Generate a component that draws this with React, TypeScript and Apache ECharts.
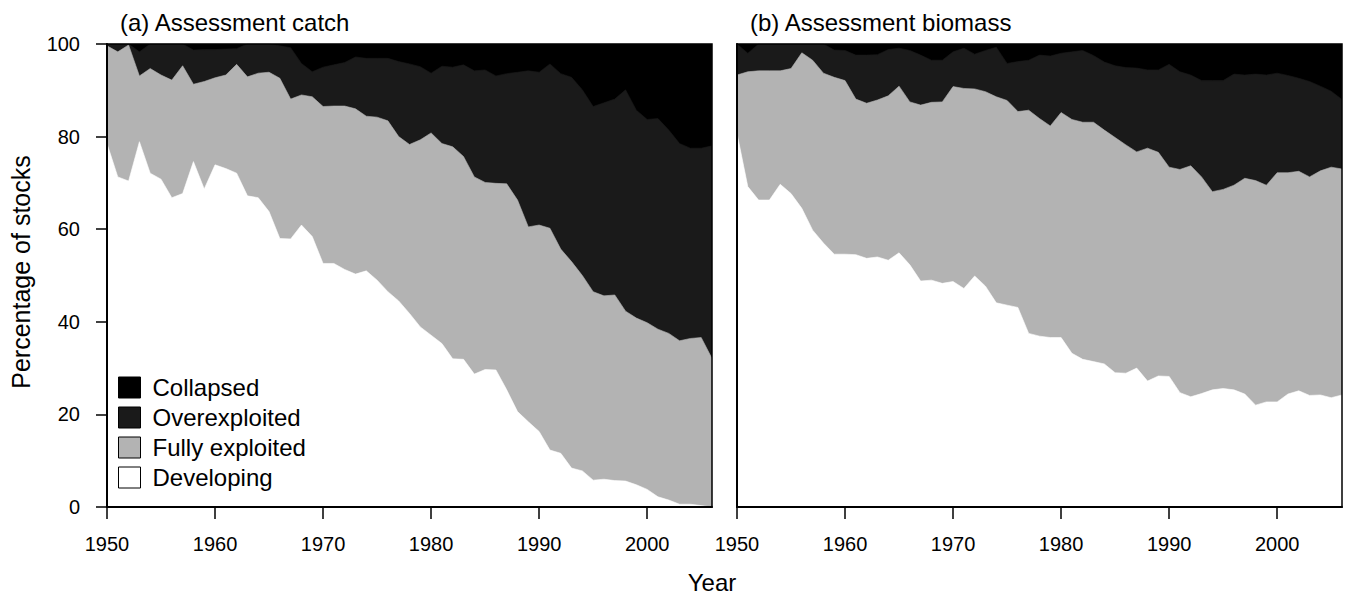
import React, { useEffect, useRef } from "react";
import * as echarts from "echarts";

const years = [
  1950, 1951, 1952, 1953, 1954, 1955, 1956, 1957, 1958, 1959,
  1960, 1961, 1962, 1963, 1964, 1965, 1966, 1967, 1968, 1969,
  1970, 1971, 1972, 1973, 1974, 1975, 1976, 1977, 1978, 1979,
  1980, 1981, 1982, 1983, 1984, 1985, 1986, 1987, 1988, 1989,
  1990, 1991, 1992, 1993, 1994, 1995, 1996, 1997, 1998, 1999,
  2000, 2001, 2002, 2003, 2004, 2005, 2006,
];

const tickYears = [1950, 1960, 1970, 1980, 1990, 2000];
const legendNames = ["Collapsed", "Overexploited", "Fully exploited", "Developing"];

// (a) Assessment catch — cumulative upper boundaries (% of stocks)
const catchDevelopingTop = [
  78.5, 71.3, 70.4, 78.9, 72.1, 70.8, 66.8, 67.7, 74.6, 68.7,
  73.9, 73.1, 72.1, 67.2, 66.8, 63.8, 58.0, 57.9, 60.9, 58.4,
  52.6, 52.6, 51.3, 50.3, 51.0, 49.0, 46.5, 44.5, 41.8, 38.9,
  37.1, 35.3, 32.0, 31.9, 28.7, 29.7, 29.6, 25.3, 20.6, 18.4,
  16.3, 12.3, 11.6, 8.4, 7.8, 5.8, 6.0, 5.7, 5.6, 4.8,
  3.8, 2.2, 1.5, 0.6, 0.6, 0.3, 0.0,
];
const catchFullyTop = [
  99.6, 98.3, 99.8, 93.1, 94.7, 93.3, 92.2, 95.3, 91.3, 91.9,
  92.7, 93.3, 95.6, 92.9, 93.7, 93.9, 92.6, 88.1, 89.0, 88.6,
  86.5, 86.6, 86.6, 86.0, 84.4, 84.2, 83.4, 80.0, 78.3, 79.3,
  80.8, 78.5, 77.8, 75.7, 71.3, 70.1, 69.9, 69.8, 66.3, 60.5,
  60.9, 60.2, 55.7, 53.0, 50.0, 46.5, 45.6, 45.8, 42.3, 40.8,
  39.8, 38.4, 37.5, 35.9, 36.4, 36.6, 32.1,
];
const catchOverTop = [
  100, 100, 100, 98.3, 100, 100, 100, 100, 98.7, 98.8,
  98.8, 98.9, 99.0, 100, 100, 100, 99.6, 99.2, 95.8, 94.0,
  95.0, 95.5, 96.0, 97.2, 96.9, 96.9, 96.9, 96.2, 95.7, 95.1,
  93.7, 95.2, 95.0, 95.5, 94.2, 94.4, 93.1, 93.6, 93.9, 94.2,
  93.9, 95.7, 93.6, 92.8, 90.1, 86.5, 87.3, 88.1, 90.1, 85.7,
  83.7, 83.9, 81.4, 78.5, 77.5, 77.5, 78.0,
];

// (b) Assessment biomass — cumulative upper boundaries (% of stocks)
const biomassDevelopingTop = [
  80.7, 69.2, 66.3, 66.3, 69.7, 67.7, 64.5, 59.8, 57.0, 54.6,
  54.6, 54.5, 53.7, 54.0, 53.3, 54.9, 52.3, 48.8, 49.0, 48.3,
  48.7, 47.2, 49.9, 47.7, 44.1, 43.6, 43.1, 37.5, 36.9, 36.6,
  36.6, 33.2, 31.9, 31.4, 30.9, 29.0, 28.9, 30.0, 27.2, 28.3,
  28.2, 24.7, 23.8, 24.5, 25.3, 25.6, 25.3, 24.4, 22.0, 22.7,
  22.7, 24.4, 25.1, 24.1, 24.2, 23.6, 24.2,
];
const biomassFullyTop = [
  93.3, 94.0, 94.2, 94.2, 94.2, 94.7, 98.1, 96.5, 93.7, 92.8,
  92.1, 88.1, 87.2, 87.9, 88.8, 90.9, 87.5, 86.8, 87.4, 87.5,
  90.8, 90.4, 90.3, 89.7, 88.6, 87.8, 85.4, 85.7, 83.9, 82.3,
  85.2, 83.7, 83.1, 83.1, 81.4, 79.8, 78.2, 76.7, 77.5, 76.6,
  73.4, 72.9, 73.7, 71.3, 68.1, 68.6, 69.5, 71.0, 70.5, 69.5,
  72.2, 72.2, 72.5, 71.3, 72.6, 73.4, 73.0,
];
const biomassOverTop = [
  100, 98.0, 100, 100, 100, 100, 100, 100, 100, 98.7,
  98.6, 97.6, 97.6, 97.7, 98.8, 99.1, 98.6, 97.6, 96.5, 96.5,
  98.3, 99.1, 97.8, 98.6, 99.3, 95.8, 96.2, 96.5, 97.6, 97.4,
  98.0, 98.3, 98.6, 97.5, 96.1, 95.3, 94.9, 94.8, 94.4, 94.4,
  95.6, 94.0, 93.3, 92.1, 92.1, 92.1, 93.5, 93.3, 93.5, 93.3,
  93.7, 93.2, 92.6, 91.9, 90.9, 89.8, 88.0,
];

const FONT = '"Liberation Sans", Arial, Helvetica, sans-serif';
const COLORS: Record<string, string> = {
  Collapsed: "#000000",
  Overexploited: "#1a1a1a",
  "Fully exploited": "#b3b3b3",
  Developing: "#ffffff",
};

// Layers are drawn back-to-front as cumulative areas from 0:
// Collapsed reaches 100 (= overexploited top + collapsed share), the others their own top.
function buildSeries(dev: number[], full: number[], over: number[], gridIndex: number) {
  const collapsedTop = over.map((v) => v + (100 - v));
  const parts: [string, number[]][] = [
    ["Collapsed", collapsedTop],
    ["Overexploited", over],
    ["Fully exploited", full],
    ["Developing", dev],
  ];
  return parts.map(([name, vals], k) => ({
    name,
    type: "line",
    xAxisIndex: gridIndex,
    yAxisIndex: gridIndex,
    data: vals.map((v, i) => [years[i], v]),
    showSymbol: false,
    symbol: "none",
    smooth: false,
    color: COLORS[name],
    itemStyle: { color: COLORS[name] },
    lineStyle: { width: 0.6, color: COLORS[name] },
    areaStyle: { color: COLORS[name], opacity: 1, origin: "start" },
    emphasis: { disabled: true },
    z: 2 + k,
  }));
}

function xAxis(gridIndex: number) {
  return {
    type: "value",
    gridIndex,
    min: 1950,
    max: 2006,
    interval: 10,
    axisLine: { show: true, onZero: false, lineStyle: { color: "#000", width: 2 } },
    axisTick: { show: true, length: 12, customValues: tickYears, lineStyle: { color: "#000", width: 1.5 } },
    axisLabel: {
      show: true,
      customValues: tickYears,
      fontSize: 20,
      color: "#000",
      fontFamily: FONT,
      margin: 27,
      formatter: (v: number) => String(v),
    },
    splitLine: { show: false },
    z: 20,
  };
}

function yAxis(gridIndex: number, labelled: boolean) {
  return {
    type: "value",
    gridIndex,
    min: 0,
    max: 100,
    interval: 20,
    axisLine: { show: true, onZero: false, lineStyle: { color: "#000", width: 2 } },
    axisTick: { show: labelled, length: 11, lineStyle: { color: "#000", width: 1.5 } },
    axisLabel: {
      show: labelled,
      fontSize: 20,
      color: "#000",
      fontFamily: FONT,
      margin: 27,
    },
    splitLine: { show: false },
    z: 20,
  };
}

export default function App() {
  const ref = useRef<HTMLDivElement>(null);
  useEffect(() => {
    if (!ref.current) return;
    const chart = echarts.init(ref.current, null, { renderer: "svg" });
    const gridBase = {
      top: 44,
      height: 463,
      width: 605,
      show: true,
      borderColor: "#000",
      borderWidth: 1.5,
      backgroundColor: "rgba(0,0,0,0)",
      z: 10,
    };
    chart.setOption({
      animation: false,
      backgroundColor: "#fff",
      textStyle: { fontFamily: FONT },
      grid: [
        { ...gridBase, left: 107 },
        { ...gridBase, left: 737 },
      ],
      xAxis: [xAxis(0), xAxis(1)],
      yAxis: [yAxis(0, true), yAxis(1, false)],
      legend: {
        orient: "vertical",
        left: 118,
        top: 375.5,
        itemWidth: 22,
        itemHeight: 21,
        itemGap: 6,
        icon: "rect",
        padding: 0,
        data: legendNames,
        selectedMode: false,
        itemStyle: { borderColor: "#000", borderWidth: 1 },
        textStyle: { fontSize: 24, color: "#000", fontFamily: FONT, padding: [0, 0, 0, 7] },
        z: 30,
      },
      graphic: [
        {
          type: "text",
          x: 120,
          y: 22,
          style: { text: "(a) Assessment catch", fontSize: 24, fill: "#000", fontFamily: FONT, align: "left", verticalAlign: "middle" },
        },
        {
          type: "text",
          x: 750,
          y: 22,
          style: { text: "(b) Assessment biomass", fontSize: 24, fill: "#000", fontFamily: FONT, align: "left", verticalAlign: "middle" },
        },
        {
          type: "text",
          x: 712,
          y: 582,
          style: { text: "Year", fontSize: 24, fill: "#000", fontFamily: FONT, align: "center", verticalAlign: "middle" },
        },
        {
          type: "text",
          x: 21,
          y: 272,
          rotation: Math.PI / 2,
          style: { text: "Percentage of stocks", fontSize: 25, fill: "#000", fontFamily: FONT, align: "center", verticalAlign: "middle" },
        },
      ],
      series: [
        ...buildSeries(catchDevelopingTop, catchFullyTop, catchOverTop, 0),
        ...buildSeries(biomassDevelopingTop, biomassFullyTop, biomassOverTop, 1),
      ],
    });
    return () => chart.dispose();
  }, []);
  return (
    <div
      ref={ref}
      style={{ position: "fixed", left: 0, top: 0, width: 1347, height: 595, background: "#fff" }}
    />
  );
}
